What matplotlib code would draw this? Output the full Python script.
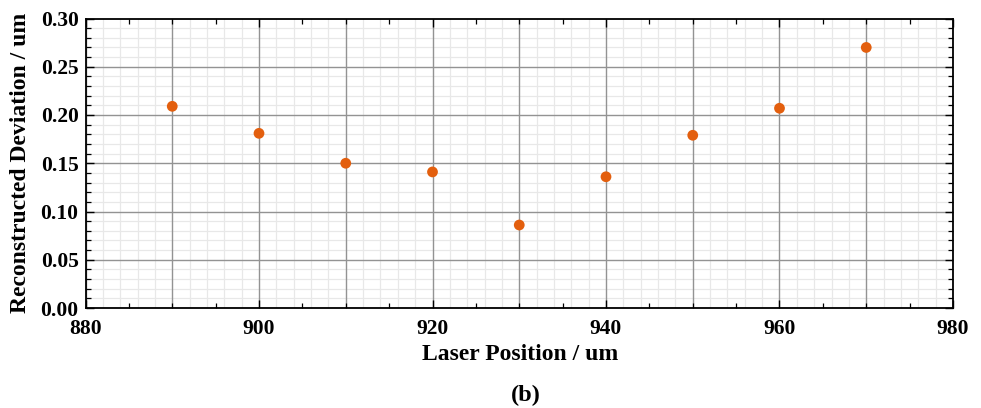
import matplotlib
matplotlib.use("Agg")
import matplotlib.pyplot as plt
import numpy as np

positions = [890, 900, 910, 920, 930, 940, 950, 960, 970]
deviations = [0.209, 0.181, 0.150, 0.141, 0.086, 0.136, 0.179, 0.207, 0.270]
x_ticks = [880, 900, 920, 940, 960, 980]
y_ticks = [0.00, 0.05, 0.10, 0.15, 0.20, 0.25, 0.30]

plt.rcParams['font.family'] = ['Liberation Serif', 'DejaVu Serif']
plt.rcParams['font.weight'] = 'bold'

fig = plt.figure(figsize=(9.81, 4.08), dpi=100)
ax = fig.add_axes([85.5/981, 1-308/408, (953-85.5)/981, (308-18.5)/408])

# grid
for xv in np.arange(880, 981, 2):
    if xv % 10 == 0:
        continue
    ax.axvline(xv, color='#e8e8e8', lw=0.9, zorder=0)
for yv in np.arange(0, 0.3001, 0.01):
    if round(yv*100) % 5 == 0:
        continue
    ax.axhline(yv, color='#e8e8e8', lw=0.9, zorder=0)
for xv in np.arange(880, 981, 10):
    ax.axvline(xv, color='#939393', lw=1.0, zorder=0.5)
for yv in np.arange(0, 0.3001, 0.05):
    ax.axhline(yv, color='#939393', lw=1.0, zorder=0.5)

ax.scatter(positions, deviations, s=60, color='#e35f0e', zorder=3, edgecolors='none')

ax.set_xlim(880, 980)
ax.set_ylim(0, 0.30)
ax.set_xticks(x_ticks)
ax.set_xticklabels([str(v) for v in x_ticks])
ax.set_xticks(np.arange(880, 981, 5), minor=True)
ax.set_yticks(y_ticks)
ax.set_yticklabels([f"{v:.2f}" for v in y_ticks])
ax.set_yticks(np.arange(0, 0.3001, 0.01), minor=True)

ax.tick_params(which='both', direction='in', top=True, right=True, color='black')
ax.tick_params(which='major', length=6, width=1.0, labelsize=15.5)
ax.tick_params(axis='x', which='major', pad=8)
ax.tick_params(axis='y', which='major', pad=5)
ax.tick_params(which='minor', length=3.5, width=0.9)
for lab in ax.get_xticklabels() + ax.get_yticklabels():
    lab.set_fontweight('bold')
for sp in ax.spines.values():
    sp.set_linewidth(1.3)
    sp.set_zorder(4)

ax.set_xlabel('Laser Position / um', fontsize=17, fontweight='bold', labelpad=6)
ax.set_ylabel('Reconstructed Deviation / um', fontsize=17, fontweight='bold', labelpad=5)
ax.xaxis.set_label_coords((520 - 85.5) / (953 - 85.5), -(355 - 308) / (308 - 18.5))
ax.xaxis.label.set_va('center')
ax.yaxis.set_label_coords(-(85.5 - 20.5) / (953 - 85.5), 0.5)
ax.yaxis.label.set_va('center')
fig.text(526 / 981, 1 - 395/408, '(b)', ha='center', va='center',
         fontsize=17.5, fontweight='bold')

fig.savefig('out.png', dpi=100)
